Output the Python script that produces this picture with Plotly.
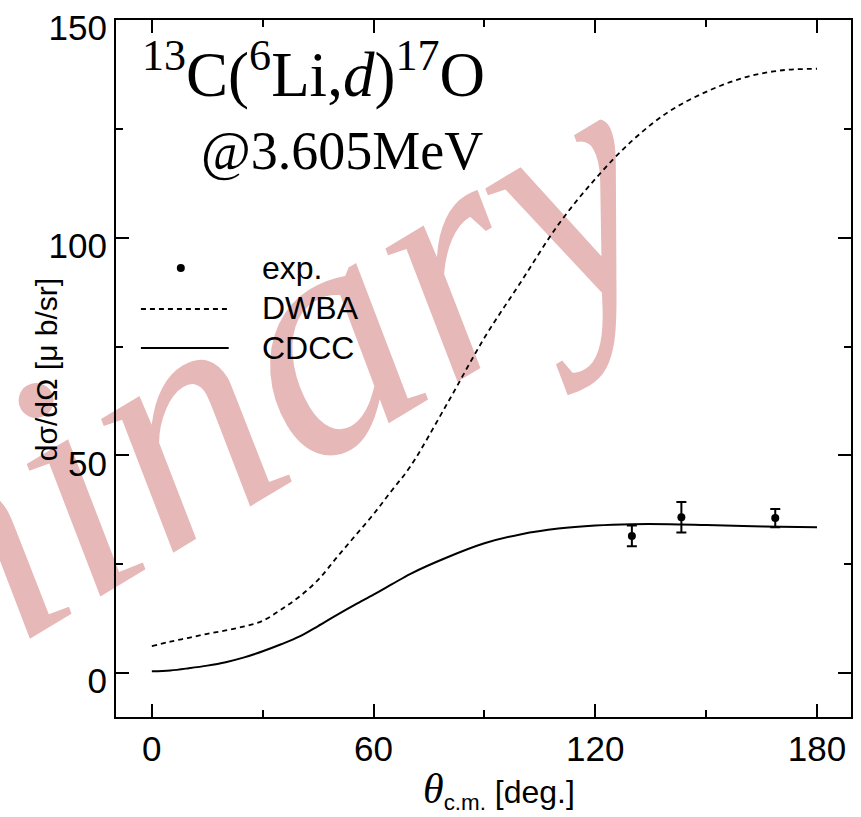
import plotly.graph_objects as go

# ---- data ----
theta = [0, 5, 10, 15, 20, 25, 30, 35, 40, 45, 50, 55, 60, 65, 70, 80, 90, 100, 110, 120,
         130, 140, 150, 160, 170, 180]
dwba = [6.2, 7.2, 8.1, 9.0, 9.8, 10.7, 12.0, 14.6, 17.6, 21.4, 26.5, 31.5, 36.5, 42.0, 47.5,
        62.0, 77.0, 90.0, 103.0, 113.5, 122.3, 129.0, 133.5, 136.7, 138.4, 138.8]
cdcc = [0.4, 0.6, 1.1, 1.7, 2.5, 3.6, 5.0, 6.6, 8.4, 10.8, 13.3, 15.7, 18.0, 20.4, 22.8,
        26.6, 29.8, 31.9, 33.2, 33.9, 34.2, 34.2, 34.0, 33.8, 33.6, 33.5]
exp_theta = [129.9, 143.3, 168.7]
exp_sigma = [31.5, 35.8, 35.6]
exp_err = [2.4, 3.5, 2.1]

x_ticks = [0, 60, 120, 180]
x_minor = [30, 90, 150]
y_ticks = [0, 50, 100, 150]
y_minor = [25, 75, 125]

W, H = 861, 817
L, R, T, B = 116, 8, 20, 100
PW, PH = W - L - R, H - T - B


def px(xp):
    return (xp - L) / PW


def py(yp):
    return (H - B - yp) / PH


fig = go.Figure()
fig.add_trace(go.Scatter(x=theta, y=dwba, mode="lines", name="DWBA",
                         line=dict(color="black", width=1.8, dash="5px,4px", shape="spline")))
fig.add_trace(go.Scatter(x=theta, y=cdcc, mode="lines", name="CDCC",
                         line=dict(color="black", width=2, shape="spline")))
fig.add_trace(go.Scatter(x=exp_theta, y=exp_sigma, mode="markers", name="exp.",
                         marker=dict(color="black", size=8),
                         error_y=dict(type="data", array=exp_err, color="black",
                                      thickness=2, width=5)))

axis_common = dict(showgrid=False, zeroline=False, showline=True, linewidth=2,
                   linecolor="black", mirror="ticks", ticks="inside", ticklen=13,
                   tickwidth=2, tickcolor="black",
                   tickfont=dict(family="Liberation Sans", size=35, color="black"))

fig.update_xaxes(range=[-9.7, 189.2], tickvals=x_ticks,
                 minor=dict(tickvals=x_minor, ticks="inside", ticklen=7, tickwidth=2,
                            tickcolor="black"),
                 **axis_common)
fig.update_yaxes(range=[-10.1, 150], tickvals=y_ticks, ticklabelshift=8,
                 minor=dict(tickvals=y_minor, ticks="inside", ticklen=7, tickwidth=2,
                            tickcolor="black"),
                 **axis_common)

WATERMARK = "Preliminary"
shapes = []
# manual legend
shapes.append(dict(type="circle", xref="paper", yref="paper", xsizemode="pixel",
                   ysizemode="pixel", xanchor=px(181), yanchor=py(268),
                   x0=-4, x1=4, y0=-4, y1=4, fillcolor="black", line=dict(width=0)))
shapes.append(dict(type="line", xref="paper", yref="paper", x0=px(141), x1=px(228),
                   y0=py(309), y1=py(309), line=dict(color="black", width=1.8, dash="5px,4px")))
shapes.append(dict(type="line", xref="paper", yref="paper", x0=px(141), x1=px(229),
                   y0=py(348), y1=py(348), line=dict(color="black", width=2)))

annotations = []
# watermark (moved behind the plot by the post script)
annotations.append(dict(text="<i>" + WATERMARK + "</i>", xref="paper", yref="paper",
                        x=px(-55), y=py(560), xanchor="center", yanchor="middle",
                        textangle=-31, showarrow=False,
                        font=dict(family="Liberation Serif", size=330,
                                  color="rgb(231,184,184)")))

leg_font = dict(family="Liberation Sans", size=32, color="black")
for label, ypx in [("exp.", 268), ("DWBA", 308), ("CDCC", 348)]:
    annotations.append(dict(text=label, xref="paper", yref="paper", x=px(260), y=py(ypx),
                            xanchor="left", yanchor="middle", showarrow=False, font=leg_font))

annotations.append(dict(text="<sup>13</sup>C(<sup>6</sup>Li,<i>d</i>)<sup>17</sup>O",
                        xref="paper", yref="paper", x=px(140), y=py(70),
                        xanchor="left", yanchor="middle", showarrow=False,
                        font=dict(family="Liberation Serif", size=63, color="black")))
annotations.append(dict(text="@3.605MeV", xref="paper", yref="paper", x=px(199), y=py(151),
                        xanchor="left", yanchor="middle", showarrow=False,
                        font=dict(family="Liberation Serif", size=54, color="black")))

# axis titles
annotations.append(dict(text="dσ/dΩ [μ b/sr]", xref="paper", yref="paper",
                        x=px(46), y=py(370), textangle=-90, showarrow=False,
                        xanchor="center", yanchor="middle",
                        font=dict(family="Liberation Sans", size=30, color="black")))
annotations.append(dict(text="<span style='font-family:Liberation Serif;font-size:42px'><i>θ</i></span>"
                             "<sub>c.m.</sub> [deg.]",
                        xref="paper", yref="paper", x=px(500), y=py(790), showarrow=False,
                        xanchor="center", yanchor="middle",
                        font=dict(family="Liberation Sans", size=32, color="black")))

fig.update_layout(width=W, height=H, margin=dict(l=L, r=R, t=T, b=B),
                  paper_bgcolor="white", plot_bgcolor="rgba(0,0,0,0)",
                  showlegend=False, shapes=shapes, annotations=annotations)

post = (
    "document.body.style.margin='0px';"
    "document.body.style.overflow='hidden';"
    "function mvWM(){var cl=document.querySelector('g.cartesianlayer');if(!cl){return;}"
    "document.querySelectorAll('g.annotation').forEach(function(a){"
    "if(a.textContent==='" + WATERMARK + "' && a.parentNode!==cl.parentNode){"
    "cl.parentNode.insertBefore(a, cl);}});}"
    "mvWM(); setTimeout(mvWM, 50); setTimeout(mvWM, 300);"
)
fig.write_html("out.html", config={"displayModeBar": False}, post_script=post)
